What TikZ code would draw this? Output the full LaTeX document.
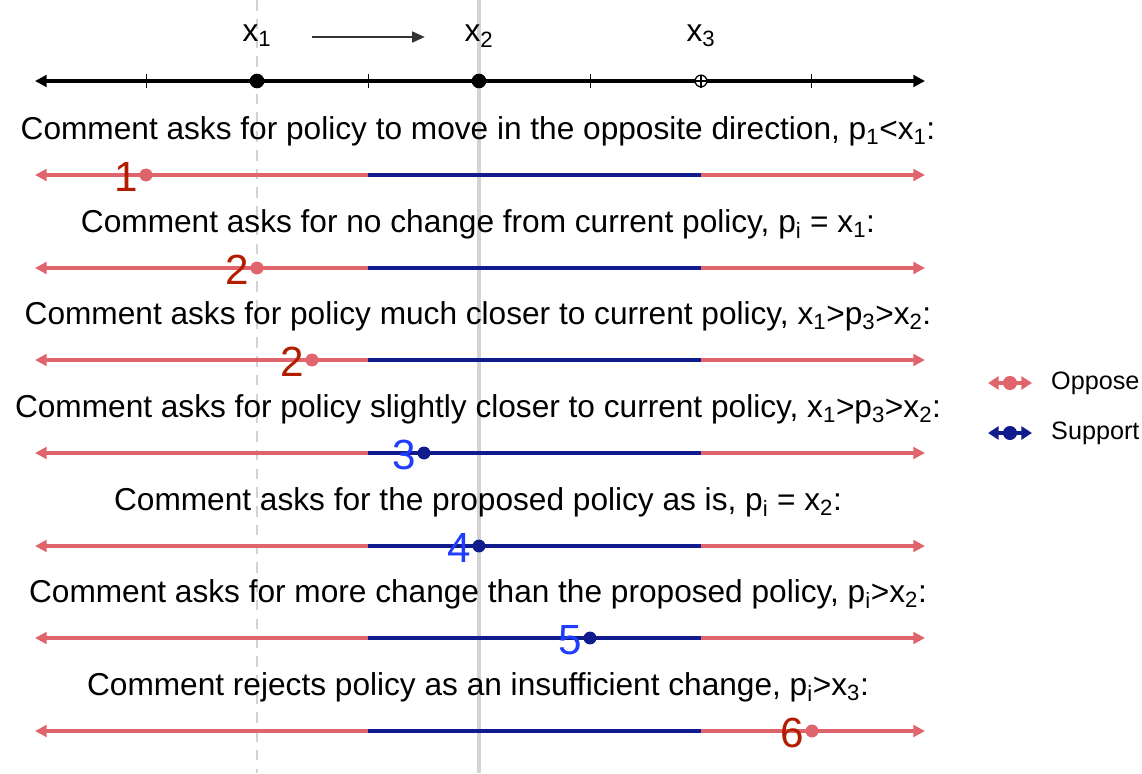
\documentclass[tikz,border=0pt]{standalone}
\usepackage{fontspec}
\setmainfont{Liberation Sans}
\usetikzlibrary{arrows.meta}
\definecolor{opp}{HTML}{E0646C}
\definecolor{sup}{HTML}{111C8C}
\definecolor{oppnum}{HTML}{B21D00}
\definecolor{supnum}{HTML}{1E3DFF}
\definecolor{guide}{HTML}{D3D3D3}

\begin{document}
\begin{tikzpicture}[x=0.03cm,y=-0.03cm]
\tikzstyle{every node}+=[inner sep=0pt]
\tikzstyle{title}=[font=\fontsize{27}{30}\selectfont]
\tikzstyle{numlab}=[font=\fontsize{36}{40}\selectfont, anchor=east]
\tikzstyle{dot}=[circle, fill, minimum size=11pt]
\tikzstyle{seg}=[line width=2.8pt]
\tikzstyle{tip}=[-{Triangle[length=10pt,width=10pt]}]
\useasboundingbox (0,0) rectangle (1142,773);
% guide lines at x1 and x2
\draw [guide, line width=2.3pt, dash pattern=on 9pt off 7pt] (257,0) -- (257,773);
\draw [guide, line width=2.6pt] (479,0) -- (479,773);
% top axis
\coordinate (al) at (35,81);
\coordinate (ar) at (925,81);
\draw [black, line width=2.8pt, {Triangle[length=10pt,width=10pt]}-{Triangle[length=10pt,width=10pt]}] (al) -- (ar);
\foreach \t in {146,368,590,811}
  \draw [black, line width=0.7pt] (\t,74) -- (\t,88);
\node [dot, black, minimum size=12.5pt] (x1pt) at (257,81) {};
\node [dot, black, minimum size=12.5pt] (x2pt) at (479,81) {};
\node [circle, draw=black, fill=white, line width=1.1pt, minimum size=10pt] (x3pt) at (701,81) {};
\draw [black, line width=0.9pt] (x3pt.north) -- (x3pt.south) (x3pt.west) -- (x3pt.east);
\node [title] (x1lab) at (257,36) {x\textsubscript{1}};
\node [title] (x2lab) at (479,36) {x\textsubscript{2}};
\node [title] (x3lab) at (701,36) {x\textsubscript{3}};
\coordinate (mvs) at (312,37);
\coordinate (mve) at (425,37);
\draw [black!80, line width=2.5pt, -{Triangle[length=11pt,width=9pt]}] (mvs) -- (mve);
% comment rows
\foreach \i/\y/\px/\n/\pc/\nc/\txt in {
  1/175/146/1/opp/oppnum/{Comment asks for policy to move in the opposite direction, p\textsubscript{1}<x\textsubscript{1}:},
  2/268/257/2/opp/oppnum/{Comment asks for no change from current policy, p\textsubscript{i} = x\textsubscript{1}:},
  3/360/312/2/opp/oppnum/{Comment asks for policy much closer to current policy, x\textsubscript{1}>p\textsubscript{3}>x\textsubscript{2}:},
  4/453/424/3/sup/supnum/{Comment asks for policy slightly closer to current policy, x\textsubscript{1}>p\textsubscript{3}>x\textsubscript{2}:},
  5/546/479/4/sup/supnum/{Comment asks for the proposed policy as is, p\textsubscript{i} = x\textsubscript{2}:},
  6/638/590/5/sup/supnum/{Comment asks for more change than the proposed policy, p\textsubscript{i}>x\textsubscript{2}:},
  7/731/812/6/opp/oppnum/{Comment rejects policy as an insufficient change, p\textsubscript{i}>x\textsubscript{3}:}}
{
  \node [title] (t\i) at (478,\y-44) {\txt};
  \coordinate (a\i) at (35,\y);
  \coordinate (b\i) at (368,\y);
  \coordinate (c\i) at (701,\y);
  \coordinate (d\i) at (925,\y);
  \draw [seg, opp, tip] (b\i) -- (a\i);
  \draw [seg, sup] (b\i) -- (c\i);
  \draw [seg, opp, tip] (c\i) -- (d\i);
  \node [dot, \pc] (p\i) at (\px,\y) {};
  \node [numlab, \nc] (n\i) at (\px-8,\y+2) {\n};
}
% legend
\foreach \k/\y/\c/\lab in {op/383/opp/Oppose, su/433/sup/Support}
{
  \coordinate (\k l) at (988,\y);
  \coordinate (\k r) at (1032,\y);
  \draw [\c, line width=3pt, {Triangle[length=9pt,width=11pt]}-{Triangle[length=9pt,width=11pt]}] (\k l) -- (\k r);
  \node [dot, \c, minimum size=12pt] (\k d) at (1010,\y) {};
  \node [anchor=west, font=\fontsize{21.5}{24}\selectfont] (\k t) at (1051,\y) {\lab};
}
\end{tikzpicture}
\end{document}
